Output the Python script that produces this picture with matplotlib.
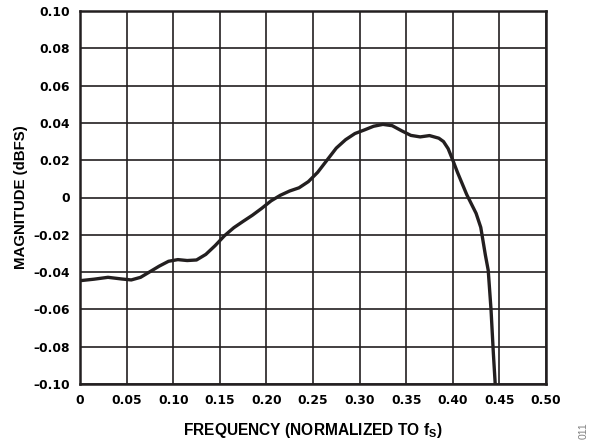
import matplotlib
matplotlib.use("Agg")
import matplotlib.pyplot as plt

plt.rcParams['font.family'] = ['Liberation Sans', 'DejaVu Sans']
plt.rcParams['mathtext.fontset'] = 'custom'
plt.rcParams['mathtext.rm'] = 'Liberation Sans:bold'
plt.rcParams['mathtext.it'] = 'Liberation Sans:bold'
plt.rcParams['mathtext.bf'] = 'Liberation Sans:bold'

freq = [0, 0.015, 0.03, 0.045, 0.055, 0.065, 0.075, 0.085, 0.095, 0.105,
        0.115, 0.125, 0.135, 0.145, 0.155, 0.165, 0.175, 0.185, 0.195, 0.205,
        0.215, 0.225, 0.235, 0.245, 0.255, 0.265, 0.275, 0.285, 0.295, 0.305,
        0.315, 0.325, 0.335, 0.345, 0.355, 0.365, 0.375, 0.385, 0.39, 0.395,
        0.40, 0.405, 0.41, 0.415, 0.42, 0.425, 0.43, 0.435, 0.438, 0.441,
        0.4435, 0.4455]
magnitude = [-0.0446, -0.0438, -0.0428, -0.0437, -0.0442, -0.0428, -0.0398, -0.0368, -0.0342, -0.0333,
             -0.0338, -0.0335, -0.0305, -0.0258, -0.0205, -0.0162, -0.0128, -0.0095, -0.0058, -0.0018,
             0.0012, 0.0035, 0.0052, 0.0085, 0.0135, 0.0200, 0.0265, 0.0310, 0.0343, 0.0362,
             0.0382, 0.0392, 0.0385, 0.0358, 0.0333, 0.0325, 0.0332, 0.0318, 0.0300, 0.0262,
             0.0200, 0.0135, 0.0075, 0.0015, -0.0035, -0.0085, -0.0160, -0.0310, -0.0390, -0.0600,
             -0.0834, -0.1000]

xticks = [0, 0.05, 0.10, 0.15, 0.20, 0.25, 0.30, 0.35, 0.40, 0.45, 0.50]
xticklabels = ['0', '0.05', '0.10', '0.15', '0.20', '0.25', '0.30', '0.35', '0.40', '0.45', '0.50']
yticks = [-0.10, -0.08, -0.06, -0.04, -0.02, 0, 0.02, 0.04, 0.06, 0.08, 0.10]
yticklabels = ['\u20130.10', '\u20130.08', '\u20130.06', '\u20130.04', '\u20130.02', '0',
               '0.02', '0.04', '0.06', '0.08', '0.10']

fig = plt.figure(figsize=(6.02, 4.46), dpi=100)
ax = fig.add_axes([80/602, 62/446, 466/602, 373/446])
ax.plot(freq, magnitude, color='#231f20', lw=2.4, solid_capstyle='butt', zorder=3)
ax.set_xlim(0, 0.5)
ax.set_ylim(-0.10, 0.10)
ax.set_xticks(xticks)
ax.set_xticklabels(xticklabels, fontsize=8.8, fontweight='bold', family='DejaVu Sans')
ax.set_yticks(yticks)
ax.set_yticklabels(yticklabels, fontsize=8.8, fontweight='bold', family='DejaVu Sans')
ax.tick_params(length=0, pad=7.5)
ax.grid(True, color='#231f20', lw=1.2)
for s in ax.spines.values():
    s.set_linewidth(1.8)
    s.set_color('#231f20')
ax.set_xlabel('FREQUENCY (NORMALIZED TO $f_S$)', fontsize=11.2, fontweight='bold', va='baseline')
ax.xaxis.set_label_coords(0.5, (11 - 62) / 373)
ax.set_ylabel('MAGNITUDE (dBFS)', fontsize=10.8, fontweight='bold', va='center')
ax.yaxis.set_label_coords((21 - 80) / 466, 0.5)
fig.text(584/602, 1 - 431/446, '011', rotation=90, fontsize=7.5, color='#808080',
         ha='center', va='center')
fig.savefig('out.png', dpi=100)
